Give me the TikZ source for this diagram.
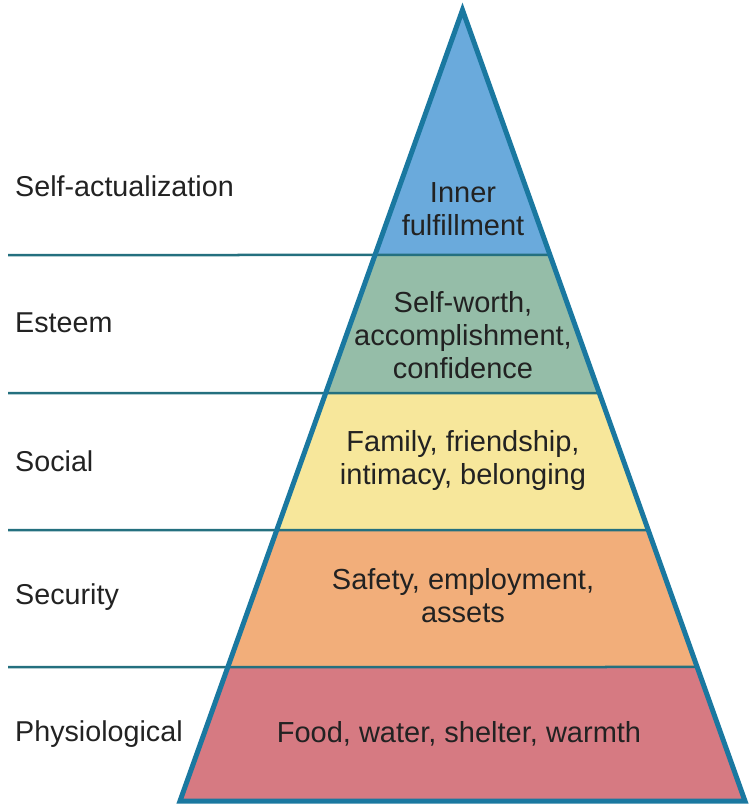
\documentclass[tikz,border=0pt]{standalone}
\usepackage{fontspec}
\setmainfont{Liberation Sans}
\usetikzlibrary{calc}
\definecolor{cTop}{HTML}{6AAADC}
\definecolor{cEst}{HTML}{95BDA8}
\definecolor{cSoc}{HTML}{F7E79B}
\definecolor{cSec}{HTML}{F2AE7A}
\definecolor{cPhy}{HTML}{D67A82}
\definecolor{cEdge}{HTML}{1A78A0}
\definecolor{cLine}{HTML}{24707F}
\definecolor{cText}{HTML}{222222}
\begin{document}
\begin{tikzpicture}[x=1pt,y=-1pt,
  lvl/.style={font=\fontsize{28.7}{33}\selectfont, text=cText, anchor=west, inner sep=0pt},
  inlbl/.style={font=\fontsize{29}{33}\selectfont, text=cText, align=center, inner sep=0pt},
  sep/.style={draw=cLine, line width=2.5pt},
  edge/.style={draw=cEdge, line width=5pt, line join=miter}]
\useasboundingbox (0,0) rectangle (750,806);
\coordinate (A) at (462.5,10);
\coordinate (BL) at (180,801);
\coordinate (BR) at (745,801);
\begin{scope}
  \clip (A) -- (BL) -- (BR) -- cycle;
  \fill[cTop] (0,0) rectangle (750,255);
  \fill[cEst] (0,255) rectangle (750,393);
  \fill[cSoc] (0,393) rectangle (750,530);
  \fill[cSec] (0,530) rectangle (750,667);
  \fill[cPhy] (0,667) rectangle (750,806);
\end{scope}
\foreach \yy in {255,393,530,667} {
  \pgfmathsetmacro{\tt}{(\yy-10)/791}
  \draw[sep] (8,\yy) -- ($(A)!\tt!(BR)$);
}
\draw[edge] (A) -- (BL) -- (BR) -- cycle;
\node[lvl] (l1) at (15,186) {Self-actualization};
\node[lvl] (l2) at (15,323) {Esteem};
\node[lvl] (l3) at (15,461) {Social};
\node[lvl] (l4) at (15,597) {Security};
\node[lvl] (l5) at (15,734) {Physiological};
\node[inlbl] (t1) at (463,209) {Inner\\fulfillment};
\node[inlbl] (t2) at (463,335) {Self-worth,\\accomplishment,\\confidence};
\node[inlbl] (t3) at (463,460) {Family, friendship,\\intimacy, belonging};
\node[inlbl] (t4) at (463,596) {Safety, employment,\\assets};
\node[inlbl] (t5) at (459,734) {Food, water, shelter, warmth};
\end{tikzpicture}
\end{document}
